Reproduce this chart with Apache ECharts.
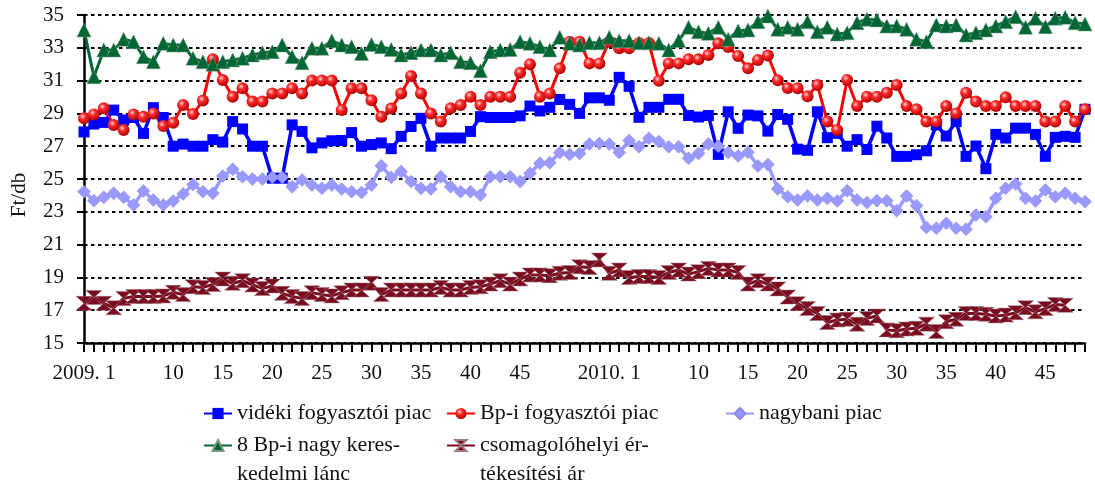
<!DOCTYPE html>
<html>
<head>
<meta charset="utf-8">
<script src="https://cdn.jsdelivr.net/npm/echarts@6/dist/echarts.min.js"></script>
<style>
  html, body { margin: 0; padding: 0; background: #fff; }
  #chart { width: 1095px; height: 489px; }
</style>
</head>
<body>
<div id="chart"></div>
<script>
// weeks: 2009 has 53, 2010 shown up to week 49
const weeks2009 = 53;
const weeks2010 = 49;
const labelWeeks = [1, 10, 15, 20, 25, 30, 35, 40, 45];

const categories = [];
for (let w = 1; w <= weeks2009; w++) categories.push("2009. " + w);
for (let w = 1; w <= weeks2010; w++) categories.push("2010. " + w);

// Ft/db
const videki = [27.87, 28.35, 28.45, 29.2, 28.6, 28.75, 27.78, 29.35, 28.75, 27.0,
  27.13, 27.0, 27.0, 27.4, 27.25, 28.5, 28.05, 27.0, 27.0, 25.05,
  25.05, 28.3, 27.9, 26.9, 27.2, 27.33, 27.35, 27.83, 27.0, 27.1,
  27.2, 26.85, 27.6, 28.2, 28.7, 27.0, 27.5, 27.5, 27.5, 27.9,
  28.8, 28.75, 28.75, 28.75, 28.85, 29.45, 29.15, 29.37, 29.85, 29.55,
  29.0, 29.95, 29.95, 29.8, 31.2, 30.65, 28.76, 29.37, 29.37, 29.86,
  29.86, 28.87, 28.78, 28.87, 26.5, 29.1, 28.09, 28.9, 28.85, 27.92,
  28.93, 28.64, 26.82, 26.75, 29.1, 27.52, 27.78, 27.0, 27.4, 26.8,
  28.22, 27.5, 26.38, 26.38, 26.48, 26.72, 28.29, 27.62, 28.5, 26.38,
  27.01, 25.63, 27.72, 27.5, 28.1, 28.1, 27.72, 26.38, 27.54, 27.6,
  27.54, 29.25];

const bpFogyasztoi = [28.7, 28.94, 29.31, 28.29, 27.99, 28.94, 28.8, 29.0, 28.23, 28.43,
  29.51, 28.96, 29.78, 32.3, 31.04, 30.02, 30.53, 29.72, 29.72, 30.22,
  30.22, 30.53, 30.22, 31.0, 31.0, 31.0, 29.21, 30.53, 30.53, 29.8,
  28.8, 29.3, 30.22, 31.28, 30.22, 29.0, 28.5, 29.31, 29.51, 30.02,
  29.51, 30.02, 30.02, 30.02, 31.48, 32.0, 30.02, 30.22, 31.75, 33.37,
  33.37, 32.05, 32.05, 33.37, 32.97, 32.97, 33.3, 33.3, 30.99, 32.05,
  32.05, 32.3, 32.3, 32.56, 33.27, 33.05, 32.5, 31.75, 32.26, 32.53,
  31.02, 30.55, 30.53, 30.05, 30.73, 28.5, 27.99, 31.04, 29.45, 30.02,
  30.02, 30.26, 30.73, 29.45, 29.25, 28.5, 28.5, 29.45, 29.0, 30.26,
  29.72, 29.45, 29.45, 29.98, 29.45, 29.45, 29.45, 28.5, 28.5, 29.45,
  28.5, 29.25];

const nagybani = [24.23, 23.68, 23.88, 24.13, 23.88, 23.42, 24.27, 23.72, 23.42, 23.66,
  24.09, 24.67, 24.23, 24.13, 25.18, 25.59, 25.14, 25.0, 25.0, 25.1,
  25.1, 24.53, 24.94, 24.63, 24.43, 24.63, 24.39, 24.23, 24.17, 24.63,
  25.81, 25.1, 25.45, 24.84, 24.43, 24.39, 25.14, 24.53, 24.23, 24.23,
  24.02, 25.14, 25.14, 25.14, 24.84, 25.35, 25.96, 25.99, 26.61, 26.5,
  26.56, 27.13, 27.17, 27.13, 26.61, 27.34, 26.97, 27.48, 27.28, 26.97,
  26.97, 26.26, 26.56, 27.13, 27.0, 26.61, 26.4, 26.63, 25.79, 25.89,
  24.39, 23.92, 23.72, 23.96, 23.72, 23.82, 23.66, 24.29, 23.72, 23.56,
  23.68, 23.68, 23.07, 23.96, 23.37, 22.05, 22.0, 22.3, 22.0, 21.94,
  22.8, 22.7, 23.82, 24.43, 24.7, 23.82, 23.66, 24.33, 23.92, 24.13,
  23.82, 23.62];

const kereskedelmiLanc = [34.09, 31.24, 32.87, 32.87, 33.52, 33.37, 32.46, 32.15, 33.27, 33.17,
  33.17, 32.36, 32.15, 32.0, 32.15, 32.26, 32.36, 32.56, 32.7, 32.76,
  33.17, 32.46, 32.09, 32.97, 32.97, 33.43, 33.17, 33.07, 32.66, 33.2,
  33.07, 32.9, 32.56, 32.7, 32.87, 32.87, 32.56, 32.7, 32.15, 32.09,
  31.6, 32.76, 32.87, 32.9, 33.37, 33.27, 33.07, 32.87, 33.64, 33.27,
  33.17, 33.31, 33.31, 33.64, 33.43, 33.43, 33.31, 33.31, 33.27, 32.87,
  33.45, 34.25, 33.98, 33.88, 34.25, 33.52, 34.04, 34.09, 34.59, 34.94,
  34.13, 34.25, 34.13, 34.59, 33.98, 34.25, 33.84, 33.92, 34.53, 34.74,
  34.7, 34.33, 34.33, 34.13, 33.52, 33.37, 34.39, 34.33, 34.39, 33.78,
  33.92, 34.09, 34.33, 34.59, 34.9, 34.25, 34.8, 34.29, 34.8, 34.86,
  34.53, 34.45];

const csomagolo = [17.42, 17.78, 17.42, 17.15, 17.72, 17.83, 17.83, 17.83, 17.87, 18.09,
  17.95, 18.43, 18.39, 18.57, 18.9, 18.64, 18.8, 18.54, 18.33, 18.48,
  18.03, 17.83, 17.72, 18.07, 17.95, 17.87, 18.07, 18.23, 18.23, 18.64,
  17.95, 18.23, 18.23, 18.23, 18.23, 18.23, 18.39, 18.23, 18.23, 18.39,
  18.43, 18.59, 18.8, 18.59, 18.9, 19.15, 19.15, 19.1, 19.25, 19.3,
  19.65, 19.6, 20.06, 19.25, 19.45, 19.0, 19.05, 19.05, 19.0, 19.3,
  19.45, 19.2, 19.35, 19.55, 19.45, 19.45, 19.3, 18.6, 18.8, 18.6,
  18.3, 17.8, 17.4, 17.1, 16.8, 16.25, 16.4, 16.45, 16.15, 16.5,
  16.65, 15.8, 15.75, 15.85, 15.9, 16.15, 15.7, 16.3, 16.45, 16.8,
  16.8, 16.75, 16.65, 16.7, 16.85, 17.15, 16.9, 17.1, 17.35, 17.3,
  null, null];

const names = [
  "vidéki fogyasztói piac",
  "Bp-i fogyasztói piac",
  "nagybani piac",
  "8 Bp-i nagy keres-\nkedelmi lánc",
  "csomagolóhelyi ér-\ntékesítési ár"
];

const FONT = "Liberation Serif";
const hourglass = "path://M0,0L10,0L5,5L10,10L0,10L5,5Z";

const chart = echarts.init(document.getElementById("chart"));

// two-line names get an empty first line so the icon sits on the first text line
function legendAt(name, left, top, multi) {
  return {
    data: [name],
    left: left,
    top: top,
    padding: 0,
    itemWidth: 28,
    itemHeight: 14,
    itemGap: 0,
    formatter: multi ? function (n) { return "\n" + n; } : null,
    textStyle: {
      fontFamily: FONT,
      fontSize: 22,
      color: "#111",
      lineHeight: 29
    }
  };
}

const option = {
  animation: false,
  backgroundColor: "#fff",
  grid: { left: 84, right: 10, top: 15, bottom: 146 },
  legend: [
    legendAt(names[0], 203, 399, false),
    legendAt(names[1], 446, 399, false),
    legendAt(names[2], 725, 399, false),
    legendAt(names[3], 203, 402, true),
    legendAt(names[4], 446, 402, true)
  ],
  xAxis: {
    type: "category",
    data: categories,
    boundaryGap: false,
    axisLine: { lineStyle: { color: "#000", width: 2.5 } },
    axisTick: { interval: 0, length: 9, lineStyle: { color: "#000", width: 2 } },
    axisLabel: {
      interval: function (index, value) {
        return labelWeeks.indexOf(Number(value.split(". ")[1])) >= 0;
      },
      formatter: function (value) {
        const w = value.split(". ")[1];
        return w === "1" ? value : w;
      },
      margin: 20,
      fontFamily: FONT,
      fontSize: 21,
      color: "#111"
    },
    splitLine: { show: false }
  },
  yAxis: {
    type: "value",
    min: 15,
    max: 35,
    interval: 2,
    name: "Ft/db",
    nameLocation: "middle",
    nameGap: 54,
    nameTextStyle: { fontFamily: FONT, fontSize: 21, color: "#111", padding: [0, 32, 0, 0] },
    axisLine: { show: true, lineStyle: { color: "#000", width: 2.5 } },
    axisTick: { show: true, length: 7, lineStyle: { color: "#000", width: 2 } },
    axisLabel: { margin: 20, fontFamily: FONT, fontSize: 21, color: "#111" },
    splitLine: { lineStyle: { color: "#000", width: 2, type: [3.5, 3.5] } }
  },
  series: [
    {
      name: names[0], type: "line", data: videki,
      symbol: "rect", symbolSize: 11, showAllSymbol: true,
      lineStyle: { color: "#0000ff", width: 3.5 },
      itemStyle: { color: "#0000ff" }
    },
    {
      name: names[1], type: "line", data: bpFogyasztoi,
      symbol: "circle", symbolSize: 12, showAllSymbol: true,
      lineStyle: { color: "#ff0000", width: 3 },
      itemStyle: {
        color: {
          type: "radial", x: 0.38, y: 0.35, r: 0.7,
          colorStops: [
            { offset: 0, color: "#ffd6d6" },
            { offset: 0.35, color: "#ff2a2a" },
            { offset: 1, color: "#a30000" }
          ]
        }
      }
    },
    {
      name: names[2], type: "line", data: nagybani,
      symbol: "diamond", symbolSize: 13, showAllSymbol: true,
      lineStyle: { color: "#9999ff", width: 3.5 },
      itemStyle: { color: "#9999ff", borderColor: "#8a8ae6", borderWidth: 0.5 }
    },
    {
      name: names[3], type: "line", data: kereskedelmiLanc,
      symbol: "triangle", symbolSize: 14, showAllSymbol: true,
      lineStyle: { color: "#006633", width: 3 },
      itemStyle: { color: "#006633", borderColor: "#7a9a85", borderWidth: 0.5 }
    },
    {
      name: names[4], type: "line", data: csomagolo,
      symbol: hourglass, symbolSize: [16, 14], showAllSymbol: true,
      lineStyle: { color: "#7a0a1e", width: 3 },
      itemStyle: { color: "#7a0a1e", borderColor: "#a07a80", borderWidth: 0.5 }
    }
  ]
};

chart.setOption(option);
</script>
</body>
</html>
